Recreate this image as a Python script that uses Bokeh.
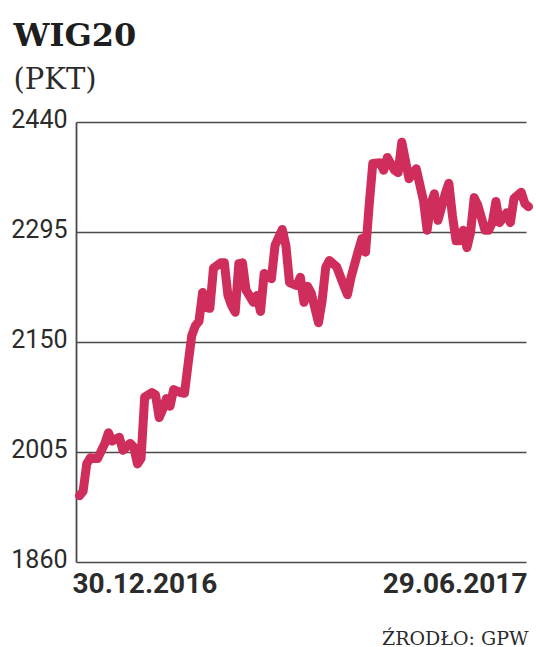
from bokeh.plotting import figure
from bokeh.models import Range1d
from bokeh.core.properties import value
from bokeh.embed import file_html
from bokeh.resources import INLINE

# trading-day index (0 = 30.12.2016, 124 = 29.06.2017) and WIG20 close (pkt)
days = [0, 1, 2, 3, 5, 7, 8, 9, 11, 12, 14, 15, 16, 17, 18, 20, 21, 22, 23, 24,
        25, 26, 28, 29, 30, 31, 32, 33, 34, 35, 36, 37, 39, 40, 41, 42, 43, 44, 45, 46,
        48, 49, 50, 51, 52, 53, 54, 56, 57, 58, 60, 61, 62, 63, 64, 66, 67, 68, 69, 71,
        73, 74, 75, 77, 78, 79, 80, 81, 83, 84, 85, 87, 88, 89, 90, 91, 92, 93, 95, 96,
        97, 98, 99, 101, 102, 103, 104, 105, 106, 107, 108, 109, 110, 112, 113, 114, 115, 116, 118, 119,
        120, 122, 123, 124]
wig20 = [1948, 1954, 1990, 1998, 1997, 2017, 2031, 2020, 2025, 2008, 2017, 2012, 1990, 1997, 2078, 2084, 2081, 2051, 2062, 2076,
         2066, 2088, 2084, 2083, 2122, 2159, 2172, 2178, 2216, 2196, 2195, 2248, 2255, 2255, 2212, 2199, 2190, 2254, 2255, 2219,
         2203, 2212, 2191, 2241, 2237, 2234, 2278, 2299, 2278, 2229, 2225, 2236, 2203, 2224, 2215, 2176, 2205, 2249, 2258, 2250,
         2225, 2213, 2236, 2271, 2287, 2269, 2331, 2386, 2387, 2377, 2394, 2377, 2374, 2414, 2390, 2366, 2373, 2379, 2337, 2298,
         2332, 2346, 2311, 2346, 2360, 2317, 2284, 2284, 2298, 2275, 2295, 2341, 2331, 2298, 2298, 2308, 2336, 2308, 2321, 2308,
         2340, 2348, 2333, 2329]

y_ticks = [1860, 2005, 2150, 2295, 2440]
y_tick_labels = ["1860", "2005", "2150", "2295", "2440"]
date_labels = ["30.12.2016", "29.06.2017"]
title_text = "WIG20"
unit_text = "(PKT)"
source_text = "ŹRODŁO: GPW"

RED = "#cf2d5c"
INK = "#2b2b2b"

# page layout (pixels) -> data ranges, so the whole page is one frame
W, H = 536, 647
PX_DAY0, PX_DAYN = 79, 528      # where first / last day sit
PX_AX_L, PX_AX_R = 76, 526      # chart box left / right
PY_TOP, PY_BOT = 122, 562       # chart box top / bottom
n_last = days[-1]
kx = (PX_DAYN - PX_DAY0) / n_last
ky = (PY_BOT - PY_TOP) / (y_ticks[-1] - y_ticks[0])
x0 = -PX_DAY0 / kx
x1 = (W - PX_DAY0) / kx
y1 = y_ticks[-1] + PY_TOP / ky
y0 = y_ticks[0] - (H - PY_BOT) / ky
ax_l = (PX_AX_L - PX_DAY0) / kx
ax_r = (PX_AX_R - PX_DAY0) / kx

p = figure(width=W, height=H, output_backend="svg", toolbar_location=None,
           x_range=Range1d(x0, x1), y_range=Range1d(y0, y1),
           min_border=0)
p.outline_line_color = None
p.axis.visible = False
p.grid.visible = False
p.background_fill_color = "white"
p.border_fill_color = "white"

# grid lines
p.segment(x0=[ax_l] * len(y_ticks), y0=y_ticks, x1=[ax_r] * len(y_ticks), y1=y_ticks,
          line_color="#4a4a4a", line_width=1.6)
# left axis line
p.segment(x0=[ax_l], y0=[y_ticks[0]], x1=[ax_l], y1=[y_ticks[-1]],
          line_color="#4a4a4a", line_width=1.8)

# y tick labels
p.text(x=[ax_l] * len(y_ticks), y=y_ticks, text=y_tick_labels,
       text_align="right", text_baseline="middle", x_offset=-9, y_offset=-4,
       text_font=value("Roboto"), text_font_size="25px", text_color=INK)

# data line
p.line(days, wig20, line_color=RED, line_width=9, line_join="round", line_cap="round")

# date labels
p.text(x=[days[0]], y=[y_ticks[0]], text=[date_labels[0]], text_align="left",
       text_baseline="top", x_offset=-7, y_offset=10,
       text_font=value("Roboto"), text_font_style="bold", text_font_size="28px",
       text_color=INK)
p.text(x=[days[-1]], y=[y_ticks[0]], text=[date_labels[1]], text_align="right",
       text_baseline="top", x_offset=-1, y_offset=10,
       text_font=value("Roboto"), text_font_style="bold", text_font_size="28px",
       text_color=INK)

# title & unit
p.text(x=[days[0]], y=[y_ticks[-1]], text=[title_text], text_align="left",
       text_baseline="alphabetic", x_offset=-66, y_offset=-88,
       text_font=value("DejaVu Serif"), text_font_style="bold", text_font_size="32px",
       text_color="#1e1e1e")
p.text(x=[days[0]], y=[y_ticks[-1]], text=[unit_text], text_align="left",
       text_baseline="alphabetic", x_offset=-66, y_offset=-44,
       text_font=value("DejaVu Serif"), text_font_size="29px",
       text_color=INK)

# source
p.text(x=[days[-1]], y=[y_ticks[0]], text=[source_text], text_align="right",
       text_baseline="alphabetic", x_offset=0, y_offset=75,
       text_font=value("DejaVu Serif"), text_font_size="19px",
       text_color=INK)

open("out.html", "w").write(file_html(p, INLINE))
